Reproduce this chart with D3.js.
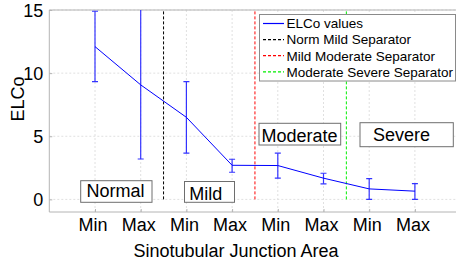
<!DOCTYPE html>
<html>
<head>
<meta charset="utf-8">
<script src="https://cdn.jsdelivr.net/npm/d3@7"></script>
<style>
  body { margin: 0; background: #fff; }
  svg { display: block; font-family: "Liberation Sans", Arial, sans-serif; }
</style>
</head>
<body>
<svg width="456" height="266"></svg>
<script>
/* Daten */
const tickLabels = ["Min", "Max", "Min", "Max", "Min", "Max", "Min", "Max"];
const elco       = [12.1, 9.07, 6.5, 2.7, 2.68, 1.68, 0.83, 0.65];
const errLow     = [9.33, 3.2, 3.66, 2.15, 1.68, 1.23, 0.0, 0.0];
const errHigh    = [14.9, 17.0, 9.33, 3.18, 3.66, 2.07, 1.65, 1.25];
const yTicks     = [0, 5, 10, 15];
const separators = [
  { x: 2.5, color: "#000000", name: "Norm Mild Separator" },
  { x: 4.5, color: "#ff0000", name: "Mild Moderate Separator" },
  { x: 6.5, color: "#00ee00", name: "Moderate Severe Separator" }
];
const classes = [
  { name: "Normal",   x0: 80.7, y0: 180.7, x1: 152,   y1: 202.3, tx: 86.5,  ty: 196.7 },
  { name: "Mild",     x0: 184.5, y0: 181.5, x1: 234.5, y1: 202.3, tx: 189.3, ty: 200 },
  { name: "Moderate", x0: 259,  y0: 123.3, x1: 340.7, y1: 145,   tx: 261.5, ty: 141.5 },
  { name: "Severe",   x0: 360,  y0: 122.7, x1: 453.3, y1: 146.7, tx: 373,   ty: 140.7 }
];

/* Layout */
const pLeft = 49.3, pRight = 460.6, pTop = 10, pBottom = 212;
const axisColor = "#b4b4b4";

const svg = d3.select("svg");

const x = d3.scaleLinear().domain([0, 9]).range([pLeft, pRight]);
const y = d3.scaleLinear().domain([-1, 15]).range([pBottom, pTop]);

svg.append("defs").append("clipPath").attr("id", "plotclip")
  .append("rect")
    .attr("x", pLeft).attr("y", pTop)
    .attr("width", pRight - pLeft).attr("height", pBottom - pTop);

// grid
const grid = svg.append("g");
grid.selectAll(".gy")
  .data(yTicks)
  .enter().append("line")
    .attr("x1", pLeft).attr("x2", pRight)
    .attr("y1", (d) => y(d)).attr("y2", (d) => y(d))
    .attr("stroke", "#e0e0e0")
    .attr("stroke-dasharray", "2,2");
grid.selectAll(".gx")
  .data(d3.range(1, 9))
  .enter().append("line")
    .attr("x1", (d) => x(d)).attr("x2", (d) => x(d))
    .attr("y1", pTop).attr("y2", pBottom)
    .attr("stroke", "#e0e0e0")
    .attr("stroke-dasharray", "2,2");

// axes
const yAxis = d3.axisLeft(y).tickValues(yTicks).tickSize(-3).tickPadding(8);
const gy = svg.append("g").attr("transform", "translate(" + pLeft + ",0)").call(yAxis);
gy.select(".domain").attr("stroke", axisColor).attr("d", "M0," + pTop + "V" + pBottom);
gy.selectAll(".tick line").attr("stroke", axisColor);
gy.selectAll("text")
  .attr("fill", "#000")
  .style("font-size", "18px")
  .attr("x", -6)
  .attr("dy", "0.36em");

const xAxis = d3.axisBottom(x).tickValues(d3.range(1, 9))
  .tickFormat((d) => tickLabels[d - 1]).tickSize(-3).tickPadding(8);
const gx = svg.append("g").attr("transform", "translate(0," + pBottom + ")").call(xAxis);
gx.select(".domain").attr("stroke", axisColor).attr("d", "M" + pLeft + ",0H" + pRight);
gx.selectAll(".tick line").attr("stroke", axisColor);
gx.selectAll("text")
  .attr("fill", "#000")
  .style("font-size", "18px")
  .attr("x", -2.5)
  .attr("y", 19)
  .attr("dy", 0);

// top border
svg.append("line")
  .attr("x1", pLeft).attr("x2", pRight)
  .attr("y1", pTop).attr("y2", pTop)
  .attr("stroke", axisColor);

// axis titles
svg.append("text")
  .attr("x", 236).attr("y", 256.5)
  .attr("text-anchor", "middle")
  .style("font-size", "18px")
  .text("Sinotubular Junction Area");

svg.append("text")
  .attr("transform", "translate(24,99) rotate(-90)")
  .attr("text-anchor", "middle")
  .style("font-size", "18px")
  .text("ELCo");

const plot = svg.append("g").attr("clip-path", "url(#plotclip)");

// separators
plot.selectAll(".sep")
  .data(separators)
  .enter().append("line")
    .attr("x1", (d) => x(d.x)).attr("x2", (d) => x(d.x))
    .attr("y1", y(0)).attr("y2", y(15))
    .attr("stroke", (d) => d.color)
    .attr("stroke-width", 1)
    .attr("stroke-dasharray", "3,2");

// error bars
const pts = elco.map((v, i) => ({ i: i + 1, v: v, lo: errLow[i], hi: errHigh[i] }));
const eb = plot.selectAll(".eb").data(pts).enter().append("g").attr("class", "eb");
eb.append("line")
  .attr("x1", (d) => x(d.i)).attr("x2", (d) => x(d.i))
  .attr("y1", (d) => y(d.lo)).attr("y2", (d) => y(d.hi))
  .attr("stroke", "#3333ff").attr("stroke-width", 1.2);
eb.append("line")
  .attr("x1", (d) => x(d.i) - 3).attr("x2", (d) => x(d.i) + 3)
  .attr("y1", (d) => y(d.lo)).attr("y2", (d) => y(d.lo))
  .attr("stroke", "#3333ff").attr("stroke-width", 1.2);
eb.append("line")
  .attr("x1", (d) => x(d.i) - 3).attr("x2", (d) => x(d.i) + 3)
  .attr("y1", (d) => y(d.hi)).attr("y2", (d) => y(d.hi))
  .attr("stroke", "#3333ff").attr("stroke-width", 1.2);

// main line
plot.append("path")
  .datum(pts)
  .attr("fill", "none")
  .attr("stroke", "#0000ff")
  .attr("stroke-width", 1)
  .attr("d", d3.line().x((d) => x(d.i)).y((d) => y(d.v)));

// class boxes
const cb = svg.selectAll(".cls").data(classes).enter().append("g");
cb.append("rect")
  .attr("x", (d) => d.x0).attr("y", (d) => d.y0)
  .attr("width", (d) => d.x1 - d.x0).attr("height", (d) => d.y1 - d.y0)
  .attr("fill", "#fff").attr("stroke", "#6e6e6e").attr("stroke-width", 1);
cb.append("text")
  .attr("x", (d) => d.tx).attr("y", (d) => d.ty)
  .style("font-size", "18px")
  .text((d) => d.name);

// legend
const legendItems = [{ name: "ELCo values", color: "#0000ff", dash: null }]
  .concat(separators.map((s) => ({ name: s.name, color: s.color, dash: "3,2" })));
const lg = svg.append("g");
lg.append("rect")
  .attr("x", 259.5).attr("y", 14.5)
  .attr("width", 196).attr("height", 66.5)
  .attr("fill", "#fff").attr("stroke", "#8a8a8a");
const li = lg.selectAll(".li").data(legendItems).enter().append("g")
  .attr("transform", (d, i) => "translate(0," + (23.5 + i * 16.1) + ")");
li.append("line")
  .attr("x1", 263).attr("x2", 284)
  .attr("stroke", (d) => d.color)
  .attr("stroke-width", 1.2)
  .attr("stroke-dasharray", (d) => d.dash);
li.append("text")
  .attr("x", 286.5).attr("y", 4.8)
  .style("font-size", "13.5px")
  .text((d) => d.name);
</script>
</body>
</html>
